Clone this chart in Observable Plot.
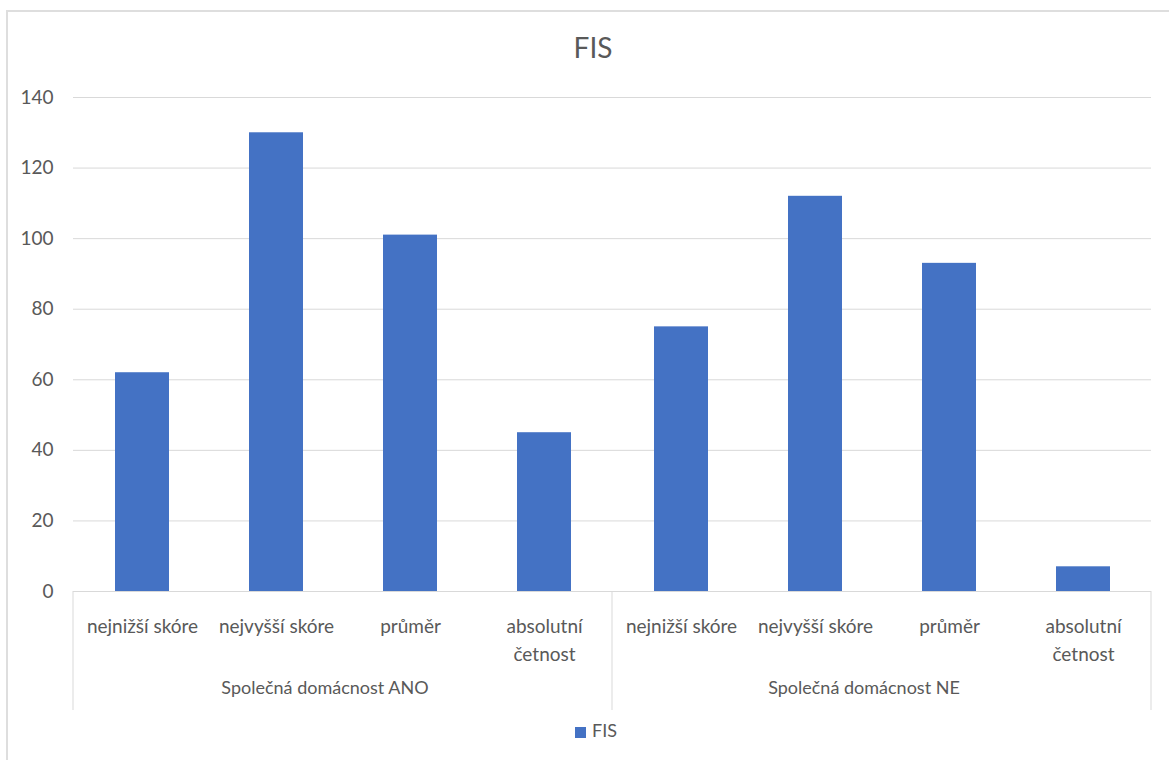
<!DOCTYPE html>
<html>
<head>
<meta charset="utf-8">
<script src="https://cdn.jsdelivr.net/npm/d3@7"></script>
<script src="https://cdn.jsdelivr.net/npm/@observablehq/plot@0.6"></script>
<style>
  html, body { margin: 0; padding: 0; background: #ffffff; }
  body { width: 1169px; height: 760px; position: relative; overflow: hidden; font-family: Lato, "Open Sans", sans-serif; color: #595959; }
  #frame { position: absolute; left: 6px; top: 10px; width: 1200px; height: 800px; border-top: 2px solid #dedede; border-left: 2px solid #dedede; }
  #title { position: absolute; left: 0; top: 33px; width: 1186px; text-align: center; font-size: 28px; line-height: 28px; color: #595959; }
  #chart { position: absolute; left: 0; top: 80px; }
  #legend { position: absolute; left: 575px; top: 721px; font-size: 18px; line-height: 18px; color: #595959; display: flex; align-items: center; }
  #legend .swatch { width: 11px; height: 11px; background: #4472C4; margin-right: 6px; margin-top: 4px; }
</style>
</head>
<body>
<div id="frame"></div>
<div id="title">FIS</div>
<div id="chart"></div>
<div id="legend"><span class="swatch"></span><span>FIS</span></div>
<script>
// FIS scores, split by whether the respondent shares a household
const groups = ["Společná domácnost ANO", "Společná domácnost NE"];
const categories = ["nejnižší skóre", "nejvyšší skóre", "průměr", "absolutní četnost"];
const categoryLabels = ["nejnižší skóre", "nejvyšší skóre", "průměr", "absolutní\nčetnost"];
const valuesANO = [62, 130, 101, 45];
const valuesNE = [75, 112, 93, 7];
const yTicks = [0, 20, 40, 60, 80, 100, 120, 140];

const seriesByGroup = [valuesANO, valuesNE];
const rows = groups.flatMap((g, gi) =>
  categories.map((c, ci) => ({group: g, category: c, value: seriesByGroup[gi][ci]}))
);
const labelOf = new Map(categories.map((c, i) => [c, categoryLabels[i]]));

const gridColor = "#d9d9d9";
const textColor = "#595959";

const plot = Plot.plot({
  width: 1169,
  height: 640,
  marginTop: 17,
  marginBottom: 129,
  marginLeft: 73,
  marginRight: 18,
  style: {fontFamily: "Lato, 'Open Sans', sans-serif", fontSize: "18px", color: textColor, background: "transparent", overflow: "visible"},
  fx: {domain: groups, padding: 0, axis: null},
  x: {domain: categories, paddingInner: 0.6, paddingOuter: 0.3, axis: null},
  y: {domain: [0, 140], axis: null},
  marks: [
    Plot.gridY(yTicks, {stroke: gridColor, strokeOpacity: 1}),
    Plot.axisY(yTicks, {tickSize: 0, tickPadding: 20, label: null, fill: textColor, fontSize: 19}),
    Plot.barY(rows, {fx: "group", x: "category", y: "value", fill: "#4472C4"}),
    Plot.ruleY([0], {stroke: gridColor}),
    Plot.axisX({tickSize: 0, tickPadding: 21, label: null, tickFormat: d => labelOf.get(d), lineHeight: 1.5, fill: textColor, fontSize: 19}),
    Plot.axisFx({anchor: "bottom", tickSize: 0, tickPadding: 90, dx: -18, label: null, fill: textColor, fontSize: 18})
  ]
});

document.getElementById("chart").appendChild(plot);

// Group separators below the category axis, placed on the facet band edges
const fx = plot.scale("fx");
const y = plot.scale("y");
const base = y.apply(0);
const edges = [fx.apply(groups[0]), fx.apply(groups[1]), fx.apply(groups[1]) + fx.bandwidth];
d3.select(plot).append("g")
  .attr("stroke", gridColor)
  .selectAll("line")
  .data(edges)
  .join("line")
  .attr("x1", d => d).attr("x2", d => d)
  .attr("y1", base).attr("y2", base + 119);
</script>
</body>
</html>
